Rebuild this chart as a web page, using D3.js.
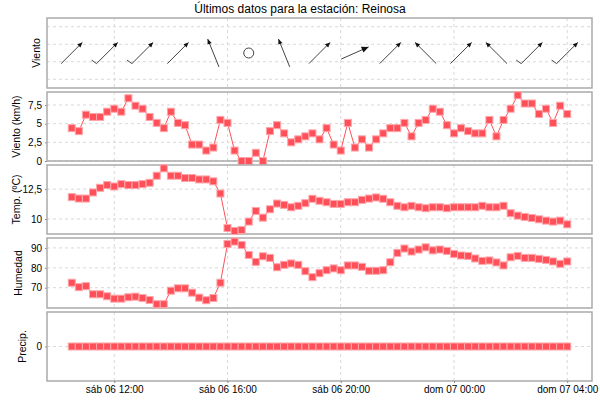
<!DOCTYPE html>
<html>
<head>
<meta charset="utf-8">
<script src="https://cdn.jsdelivr.net/npm/d3@7"></script>
<style>
  body { margin: 0; background: #fff; }
  text { font-family: "Liberation Sans", Arial, sans-serif; }
</style>
</head>
<body>
<div id="chart"></div>
<script>
// Data: one reading every 15 minutes, sáb 06 10:30 -> dom 07 04:00
var startTime = new Date(2000, 0, 6, 10, 30);
var stepMinutes = 15;

var windSpeed = [4.4,4.0,6.2,5.9,5.9,6.6,7.0,6.6,8.4,7.4,7.0,5.9,5.1,4.4,6.6,5.1,4.8,2.2,2.2,1.4,
  1.8,5.5,5.1,1.4,0,0,1.1,0,4.0,4.8,3.7,2.5,2.9,3.3,3.7,2.9,4.4,2.2,1.4,5.1,
  1.8,2.9,1.8,2.9,3.7,4.4,4.4,5.1,3.3,5.1,5.5,7.0,6.6,4.8,3.7,4.4,4.0,3.7,3.7,5.5,
  3.3,5.5,7.0,8.8,7.7,7.7,6.3,7.0,5.1,7.4,6.3];

var temperature = [11.83,11.71,11.71,12.22,12.61,12.84,12.72,12.92,12.84,12.84,12.92,13.03,13.62,14.24,13.62,13.62,13.43,13.43,13.31,13.31,
  13.15,12.13,9.24,8.99,9.07,9.78,10.67,10.11,10.81,11.29,11.18,10.98,11.10,11.32,11.69,11.52,11.40,11.26,11.26,11.40,
  11.40,11.60,11.71,11.80,11.69,11.40,11.10,10.98,11.10,10.98,10.90,10.98,10.98,10.90,10.98,10.98,10.98,10.98,11.10,10.98,
  10.98,11.10,10.48,10.28,10.17,10.08,9.97,9.86,9.78,9.86,9.55];

var humidity = [72.5,70.3,70.8,66.7,66.7,65.7,64.5,64.5,65.2,65.5,64.8,63.8,61.7,61.7,68.5,69.7,69.7,67.5,65.0,63.7,
  64.8,72.5,92.0,93.2,91.5,86.5,83.0,85.8,85.0,80.3,81.5,82.2,81.5,78.3,75.3,77.3,78.8,79.7,78.8,81.2,
  81.2,80.5,78.5,78.5,78.8,82.8,87.5,89.7,88.2,89.2,90.3,88.8,89.2,88.5,87.0,86.2,86.0,84.7,83.5,83.7,
  82.7,81.2,85.3,86.0,85.0,85.0,84.5,84.0,83.2,82.0,83.2];

var precip = humidity.map(function () { return 0; }); // no rain in the whole period

// wind direction arrows (every 5th reading): bearing the arrow points to, null = calm
var arrowIndex = [0,5,10,15,20,25,30,35,40,45,50,55,60,65,70];
var arrowBearing = [45,45,45,45,338,null,338,45,66,45,315,45,315,45,45];
var arrowBarbs = [0,1,1,0,0,0,0,0,0,0,0,0,0,1,1];

var xTickLabels = ["sáb 06 12:00","sáb 06 16:00","sáb 06 20:00","dom 07 00:00","dom 07 04:00"];
var xTickTimes = [new Date(2000,0,6,12), new Date(2000,0,6,16), new Date(2000,0,6,20),
  new Date(2000,0,7,0), new Date(2000,0,7,4)];

var times = windSpeed.map(function (d, i) { return new Date(startTime.getTime() + i * stepMinutes * 60000); });

var W = 600, H = 400;
var left = 47, right = 592;
var red = "#ff5059", grid = "#d8d8d8", border = "#aaaaaa";
var fmt = function (v) { return String(v).replace(".", ","); };

var svg = d3.select("#chart").append("svg").attr("width", W).attr("height", H);

svg.append("text").attr("x", 300).attr("y", 13).attr("text-anchor", "middle")
  .style("font-size", "12px").text("Últimos datos para la estación: Reinosa");

var t0 = times[0].getTime(), t1 = times[times.length - 1].getTime(), pad = (t1 - t0) * 0.05;
var x = d3.scaleTime().domain([new Date(t0 - pad), new Date(t1 + pad)]).range([left, right]);

var panels = [
  {top: 18, bottom: 88, label: "Viento", labelX: 40, domain: [0, 4], ticks: [0.5, 1.5, 2.5, 3.5], showTicks: false},
  {top: 92, bottom: 161, label: "Viento (km/h)", labelX: 20, domain: [0, 9.24], ticks: [0, 2.5, 5, 7.5], data: windSpeed},
  {top: 165, bottom: 234, label: "Temp. (ºC)", labelX: 20, domain: [8.74, 14.52], ticks: [10, 12.5], data: temperature},
  {top: 238, bottom: 308, label: "Humedad", labelX: 22, domain: [59.8, 95], ticks: [70, 80, 90], data: humidity},
  {top: 312, bottom: 381, label: "Precip.", labelX: 26, domain: [-1, 1], ticks: [0], data: precip}
];

panels.forEach(function (p) {
  var y = d3.scaleLinear().domain(p.domain).range([p.bottom, p.top]);
  var g = svg.append("g");

  // grid
  g.selectAll(".hg").data(p.ticks).enter().append("line")
    .attr("x1", left).attr("x2", right).attr("y1", d => y(d)).attr("y2", d => y(d))
    .attr("stroke", grid).attr("stroke-dasharray", "3,3");
  g.selectAll(".vg").data(xTickTimes).enter().append("line")
    .attr("x1", d => x(d)).attr("x2", d => x(d)).attr("y1", p.top).attr("y2", p.bottom)
    .attr("stroke", grid).attr("stroke-dasharray", "3,3");

  if (p.showTicks !== false) {
    var ax = g.append("g").attr("transform", "translate(" + left + ",0)")
      .call(d3.axisLeft(y).tickValues(p.ticks).tickFormat(fmt).tickSize(2).tickPadding(3));
    ax.select(".domain").remove();
    ax.selectAll("text").style("font-size", "10px").style("font-family", "Liberation Sans, Arial, sans-serif");
    ax.selectAll("line").attr("stroke", "#888");
  }

  g.append("text").attr("transform", "translate(" + p.labelX + "," + ((p.top + p.bottom) / 2) + ") rotate(-90)")
    .attr("text-anchor", "middle").style("font-size", "10.5px").text(p.label);

  g.append("rect").attr("x", left).attr("y", p.top).attr("width", right - left).attr("height", p.bottom - p.top)
    .attr("fill", "none").attr("stroke", border).attr("stroke-width", 1.5);

  if (p.data) {
    var line = d3.line().x((d, i) => x(times[i])).y(d => y(d));
    g.append("path").datum(p.data).attr("d", line).attr("fill", "none").attr("stroke", red).attr("stroke-width", 1);
    g.selectAll(".pt").data(p.data).enter().append("rect")
      .attr("x", (d, i) => x(times[i]) - 3.5).attr("y", d => y(d) - 3.5)
      .attr("width", 7).attr("height", 7).attr("fill", red)
      .attr("stroke", "#ffa5aa").attr("stroke-width", 1);
  }
});

// wind direction arrows in first panel
var midY = (panels[0].top + panels[0].bottom) / 2, len = 30;
var ag = svg.append("g");
arrowIndex.forEach(function (idx, k) {
  var cx = x(times[idx]);
  var b = arrowBearing[k];
  if (b === null) {
    ag.append("circle").attr("cx", cx).attr("cy", midY).attr("r", 5)
      .attr("fill", "none").attr("stroke", "#444");
    return;
  }
  var r = b * Math.PI / 180, dx = Math.sin(r), dy = -Math.cos(r);
  var hx = cx + dx * len / 2, hy = midY + dy * len / 2, tx = cx - dx * len / 2, ty = midY - dy * len / 2;
  ag.append("line").attr("x1", tx).attr("y1", ty).attr("x2", hx).attr("y2", hy)
    .attr("stroke", "#444").attr("stroke-width", 1);
  var hs = b === 66 ? 7 : 5;
  var px = -dy, py = dx;
  ag.append("path")
    .attr("d", "M" + hx + "," + hy + "L" + (hx - dx * hs + px * hs * 0.45) + "," + (hy - dy * hs + py * hs * 0.45) +
      "L" + (hx - dx * hs - px * hs * 0.45) + "," + (hy - dy * hs - py * hs * 0.45) + "Z")
    .attr("fill", "#111");
  for (var n = 0; n < arrowBarbs[k]; n++) {
    ag.append("line").attr("x1", tx).attr("y1", ty)
      .attr("x2", tx + dy * 6 - dx * 1).attr("y2", ty - dx * 6 - dy * 1)
      .attr("stroke", "#444");
  }
});

// x axis under the last panel
var xa = svg.append("g").attr("transform", "translate(0," + panels[4].bottom + ")")
  .call(d3.axisBottom(x).tickValues(xTickTimes).tickFormat((d, i) => xTickLabels[i]).tickSize(2).tickPadding(3));
xa.select(".domain").remove();
xa.selectAll("text").style("font-size", "10px").style("font-family", "Liberation Sans, Arial, sans-serif");
xa.selectAll("line").attr("stroke", "#888");
</script>
</body>
</html>
